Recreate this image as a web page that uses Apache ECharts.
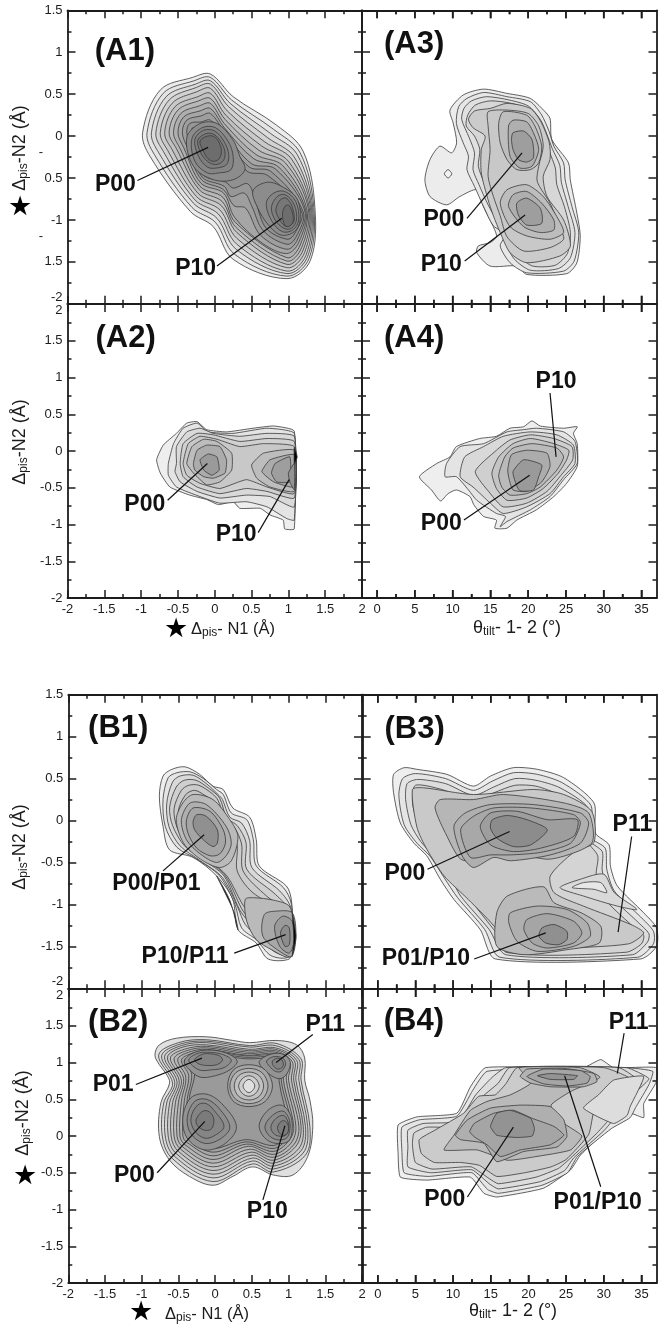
<!DOCTYPE html>
<html>
<head>
<meta charset="utf-8">
<title>Free energy maps</title>
<script src="https://cdn.jsdelivr.net/npm/echarts@6/dist/echarts.min.js"></script>
<style>
  html, body { margin: 0; background: #fff; }
  #main { width: 664px; height: 1335px; }
</style>
</head>
<body>
<div id="main"></div>
<script>
// tick values
const thetaTicks = [0, 5, 10, 15, 20, 25, 30, 35]
const thetaMinorTicks = [2.5, 7.5, 12.5, 17.5, 22.5, 27.5, 32.5]
// A1 lost its minus signs on two labels in the original figure
const a1YLabels = { '1.5': '1.5', '1': '1', '0.5': '0.5', '0': '0', '-0.5': '0.5', '-1': '-1', '-1.5': '1.5', '-2': '-2' }

// contours, outermost first: flat x,y lists
const a1Contours = [
  [-.06,.74,.25,.47,.84,.13,1.2,-.18,1.36,-.85,1.3,-1.48,.98,-1.7,.25,-1.47,-.02,-1.08,-.33,-.9,-.88,-.24,-.98,.04,-.74,.55,-.3,.7],
  [-.06,.7,.23,.43,.8,.08,1.16,-.2,1.345,-.85,1.28,-1.46,.98,-1.67,.27,-1.41,.01,-1.03,-.31,-.85,-.82,-.22,-.92,.04,-.7,.51,-.28,.66],
  [-.06,.66,.21,.39,.76,.03,1.12,-.22,1.33,-.85,1.26,-1.44,.98,-1.64,.29,-1.35,.03,-.98,-.29,-.8,-.76,-.2,-.86,.04,-.66,.47,-.26,.62],
  [-.06,.62,.19,.35,.72,-.02,1.08,-.25,1.315,-.85,1.24,-1.42,.98,-1.61,.3,-1.29,.05,-.93,-.27,-.76,-.7,-.18,-.8,.04,-.62,.43,-.25,.58],
  [-.06,.57,.17,.3,.68,-.07,1.04,-.27,1.3,-.85,1.22,-1.39,.98,-1.57,.3,-1.22,.07,-.88,-.25,-.72,-.64,-.17,-.74,.04,-.58,.39,-.24,.53],
  [-.06,.51,.15,.25,.64,-.12,1,-.3,1.285,-.86,1.2,-1.36,.98,-1.53,.3,-1.15,.09,-.83,-.23,-.68,-.58,-.16,-.68,.04,-.54,.35,-.23,.47],
  [-.06,.45,.14,.2,.6,-.17,.96,-.32,1.27,-.86,1.18,-1.33,.98,-1.49,.29,-1.09,.1,-.78,-.21,-.64,-.52,-.15,-.62,.04,-.5,.31,-.22,.42],
  [-.06,.39,.13,.15,.56,-.22,.92,-.35,1.25,-.87,1.16,-1.3,.98,-1.45,.28,-1.03,.11,-.73,-.2,-.6,-.47,-.15,-.56,.04,-.46,.27,-.21,.36],
  [-.06,.33,.13,.1,.53,-.27,.87,-.37,1.235,-.88,1.14,-1.27,.98,-1.4,.65,-1.28,.27,-.97,.12,-.68,-.19,-.56,-.42,-.14,-.5,.04,-.42,.23,-.2,.3],
  [-.06,.27,.14,.04,.5,-.33,.82,-.39,1.22,-.88,1.12,-1.24,.98,-1.35,.62,-1.18,.42,-.86,.26,-.83,.12,-.64,-.18,-.52,-.37,-.14,-.44,.04,-.38,.19,-.19,.24],
  [-.06,.19,.16,-.03,.47,-.37,.76,-.42,1.2,-.9,1.1,-1.21,.98,-1.29,.66,-1.13,.5,-.83,.4,-.68,.22,-.72,.13,-.6,-.17,-.49,-.32,-.13,-.38,.04,-.34,.15,-.18,.17],
  [-.06,.115,.19,-.12,.44,-.42,.72,-.47,1.18,-.9,1.08,-1.17,.98,-1.23,.7,-1.1,.56,-.8,.45,-.57,.25,-.62,.15,-.55,-.16,-.46,-.27,-.13,-.31,.05,-.3,.1,-.17,.11],
  [-.38,-.02,-.2,.15,.03,.15,.25,-.05,.34,-.24,.41,-.4,.25,-.52,-.02,-.52,-.29,-.36],
  [-.31,-.03,-.17,.1,.01,.1,.18,-.06,.25,-.24,.22,-.4,.05,-.44,-.1,-.44,-.27,-.3],
  [-.27,-.04,-.15,.07,0,.06,.13,-.07,.19,-.22,.16,-.34,.03,-.38,-.1,-.37,-.22,-.24],
  [-.23,-.05,-.12,.03,-.01,.02,.09,-.08,.14,-.2,.11,-.3,.01,-.34,-.1,-.3,-.19,-.2],
  [-.2,-.06,-.1,0,0,-.01,.07,-.1,.09,-.2,.05,-.28,-.02,-.3,-.09,-.27,-.16,-.17],
  [.52,-.65,.72,-.55,.95,-.62,1.12,-.75,1.16,-1,1.08,-1.14,.9,-1.18,.72,-1.05,.58,-.85],
  [.7,-.8,.8,-.68,.95,-.66,1.1,-.78,1.14,-1,1.06,-1.12,.92,-1.14,.78,-1.02],
  [.77,-.85,.85,-.72,.96,-.7,1.08,-.82,1.11,-1,1.04,-1.1,.94,-1.1,.82,-1],
  [.83,-.88,.89,-.76,.97,-.74,1.05,-.84,1.08,-1,1.02,-1.07,.95,-1.07,.87,-.98],
  [.92,-.93,.96,-.83,1.01,-.83,1.06,-.93,1.06,-1.03,1,-1.08,.95,-1.06]
]
const a1Levels = [5,10,15,20,25,30,35,40,45,50,54,58,60,64,68,72,78,60,64,68,72,78]

const a2Contours = [
  [-.79,-.12,-.7,.08,-.52,.24,-.38,.38,-.24,.4,-.11,.29,.16,.26,.52,.31,.8,.34,1.08,.27,1.08,-1.06,.95,-1.06,.93,-.94,.75,-.87,.62,-.78,.34,-.78,.25,-.69,.05,-.73,-.11,-.66,-.34,-.6,-.61,-.49,-.74,-.3],
  [-.63,-.17,-.56,.1,-.43,.31,-.24,.38,-.09,.26,.25,.24,.71,.31,1.08,.24,1.08,-.94,.98,-.92,.71,-.76,.43,-.69,.07,-.71,-.2,-.62,-.52,-.49,-.63,-.33],
  [-.52,-.17,-.52,.06,-.38,.26,-.2,.31,-.02,.24,.34,.2,.71,.24,1.08,.2,1.08,-.76,.75,-.62,.43,-.6,.07,-.64,-.24,-.55,-.47,-.42,-.54,-.28],
  [-.47,-.17,-.43,.1,-.24,.24,-.02,.22,.34,.13,.71,.17,1.08,.13,1.08,-.64,.71,-.55,.43,-.51,.07,-.58,-.24,-.49,-.43,-.35],
  [-.43,-.17,-.36,.1,-.2,.2,.03,.16,.34,.06,.66,.1,1.08,.06,1.08,-.58,.71,-.49,.43,-.39,.07,-.51,-.2,-.44,-.38,-.33],
  [-.38,-.17,-.31,.06,-.15,.16,.03,.13,.23,-.03,.23,-.26,.07,-.42,-.11,-.46,-.29,-.3],
  [-.29,-.17,-.24,.01,-.11,.08,.07,.06,.16,-.12,.14,-.3,-.02,-.37,-.15,-.35,-.27,-.26],
  [-.2,-.12,-.09,-.04,.03,-.08,.06,-.26,-.04,-.33,-.15,-.26],
  [.5,-.19,.66,-.03,1.08,.01,1.08,-.55,.75,-.49,.57,-.37],
  [.64,-.28,.75,-.12,1.08,-.05,1.08,-.49,.8,-.42],
  [.77,-.3,.82,-.17,1.02,-.08,1.02,-.42,.84,-.42],
  [1,-.3,1.08,-.17,1.08,-.53,1.02,-.42],
  [1.08,.05,1.12,-.08,1.08,-.18]
]
const a2Levels = [4,10,16,21,26,32,42,52,32,42,50,56,150]

const a3Contours = [
  [9.65,.31,11.4,.49,14.07,.56,17.17,.51,20.27,.45,22.04,.31,22.9,.21,23.14,-.04,25.35,-.32,25.58,-.52,26.46,-.92,26.9,-1.19,26.46,-1.51,25.13,-1.64,19.82,-1.65,18.5,-1.55,14.96,-1.55,13.19,-1.39,13.4,-1.31,14.96,-1.27,15.84,-1.19,14.07,-.84,13.19,-.64,10.97,-.72,9.2,-.82,7,-.72,6.33,-.52,7,-.28,8.32,-.12,9.87,-.2,10.53,-.08,10.09,.15],
  [9.4,-.4,9.9,-.45,9.4,-.5,8.9,-.45],
  [10.8,.35,11.9,.45,14.1,.52,17.2,.47,20.3,.41,21.8,.25,22.8,.05,23.4,-.12,24.7,-.32,24.9,-.52,25.8,-.84,26.7,-1.15,26.1,-1.49,24.7,-1.61,19.8,-1.63,17.6,-1.51,16.3,-1.31,17,-1.17,15.4,-1.07,14.1,-.84,12.9,-.6,11.9,-.4,12.1,-.24,11.4,-.08,10.5,.15],
  [11.5,.33,12.5,.42,14.5,.47,17.5,.43,20,.36,21.6,.2,22.5,.02,23.2,-.15,24.2,-.35,24.4,-.55,25.3,-.84,26.2,-1.15,25.6,-1.45,24,-1.58,20.3,-1.6,18.2,-1.47,17.1,-1.28,17.5,-1.13,16,-1.02,14.7,-.82,13.5,-.58,12.7,-.4,12.9,-.2,12.2,-.02,11.2,.2],
  [12,.25,13,.37,15,.42,17.8,.39,19.8,.32,21.2,.15,22.2,0,22.8,-.18,23.6,-.38,23.8,-.58,24.8,-.84,25.6,-1.15,25.2,-1.4,23.6,-1.54,20.6,-1.55,18.8,-1.43,17.8,-1.25,18,-1.08,16.5,-.96,15.2,-.78,14.2,-.56,13.4,-.36,13.6,-.16,12.9,0,11.8,.12],
  [12.1,.2,12.9,.3,15,.33,17.2,.39,20.3,.33,21.7,.17,22.8,-.08,22.9,-.28,22,-.48,22.5,-.72,24.7,-1,25.6,-1.31,24.2,-1.43,19.8,-1.51,17.6,-1.39,16.3,-1.15,15.4,-.95,14.7,-.76,13.8,-.44,13.8,-.16,14.3,0,12.7,.1],
  [14.7,.29,17.2,.31,20,.27,21.4,.12,22,-.12,21.4,-.36,21.2,-.54,22.9,-.8,24.2,-1.08,24.7,-1.23,22.9,-1.33,19.4,-1.37,17.2,-1.2,16.3,-.95,15.4,-.72,14.7,-.48,14.96,-.16,14.7,.12],
  [16.1,.15,16.7,.29,19.8,.25,20.9,.12,21.8,-.12,21.4,-.32,20.3,-.4,18.5,-.4,17.2,-.28,16.3,-.08],
  [17.4,.12,18,.19,19.8,.17,20.7,.04,21.4,-.16,20.5,-.36,18.9,-.38,17.6,-.24],
  [17.8,-.04,18,.04,19.4,.06,20.5,-.04,20.7,-.26,19.8,-.31,18.7,-.28,18,-.16],
  [16.3,-.8,17.2,-.64,19.8,-.58,22,-.72,23.8,-.96,24.7,-1.15,22.9,-1.23,19.8,-1.19,17.6,-1.08],
  [17.4,-.84,18,-.7,19.8,-.66,21.8,-.8,23.4,-1,23.4,-1.12,21.6,-1.15,19.4,-1.08],
  [18.5,-.8,19.8,-.74,21.6,-.86,21.8,-1.04,19.8,-1.06,18.7,-.94]
]
const a3Levels = [5,2,8,12,17,24,26,32,40,50,32,40,50]

const a4Contours = [
  [5.6,-.35,7.9,-.17,9.65,-.08,10.5,.06,13.6,.17,15.8,.2,17.6,.31,19.4,.33,20.5,.41,21.6,.34,24.7,.31,26.5,.33,26,.24,26.5,.1,26.5,-.21,25.1,-.44,23.4,-.62,21.1,-.8,18.5,-.94,17.2,-1.05,15.6,-1.05,15.8,-.94,14.1,-.89,12.8,-.73,12.3,-.62,10.5,-.53,9.4,-.58,8.4,-.68,7.2,-.53],
  [9,-.35,9.2,-.17,11,.06,14.1,.1,17.2,.26,19.4,.29,21.1,.31,24.7,.26,26.2,.13,26.5,-.17,24.7,-.39,22.9,-.62,20.3,-.8,17.2,-.96,16.3,-1.03,17,-.89,15.8,-.85,13.2,-.67,12.1,-.53,10.5,-.35],
  [11,-.35,11.6,-.08,14.1,.06,16.7,.2,20.3,.26,23.8,.22,26,.08,26.2,-.17,24.7,-.35,22.9,-.58,19.8,-.76,16.7,-.85,15,-.71,12.7,-.49],
  [13,-.28,15.8,.01,17.6,.15,20.3,.22,23.4,.17,25.8,.06,25.9,-.12,24.2,-.35,22.5,-.55,19.8,-.71,16.7,-.76,15,-.58],
  [15.2,-.3,16.1,-.08,18,.1,20.3,.17,23.4,.1,25.4,.01,25.1,-.12,24,-.3,22,-.51,19.8,-.64,17.2,-.67,15.8,-.51],
  [16.1,-.33,16.9,-.08,18,.04,20.5,.1,23.8,.04,24.7,-.08,23.8,-.26,21.6,-.49,19.8,-.58,17.6,-.6,16.5,-.49],
  [17.3,-.26,17.8,-.05,19.8,.01,22.5,-.03,22.9,-.21,21.8,-.42,19.8,-.55,18,-.53,17.5,-.39],
  [18,-.28,19.4,-.12,21.8,-.19,21.4,-.35,20.7,-.53,18.9,-.54,18.3,-.42]
]
const a4Levels = [4,10,16,22,28,34,42,52]

const b1Contours = [
  [-.76,.29,-.71,.53,-.59,.61,-.41,.64,-.21,.55,-.03,.41,.11,.37,.24,.15,.47,.04,.56,-.23,.6,-.54,.97,-.78,1.04,-.96,1.06,-1.5,1.01,-1.65,.72,-1.65,.56,-1.46,.31,-1.3,.24,-.94,.02,-.66,-.3,-.44,-.62,-.35,-.71,-.07],
  [-.71,.25,-.64,.51,-.52,.57,-.34,.58,-.16,.5,.02,.37,.11,.31,.22,.09,.43,.01,.52,-.23,.56,-.54,.93,-.8,1.04,-1,1.05,-1.46,.99,-1.63,.76,-1.61,.56,-1.42,.36,-1.28,.27,-1,.06,-.66,-.25,-.46,-.52,-.32,-.68,-.07],
  [-.66,.2,-.58,.46,-.48,.53,-.3,.54,-.12,.44,.04,.31,.1,.25,.2,.04,.36,-.03,.47,-.24,.5,-.56,.88,-.84,1.03,-1.04,1.04,-1.42,.97,-1.6,.8,-1.56,.58,-1.38,.41,-1.24,.31,-1.04,.1,-.68,-.2,-.48,-.48,-.3,-.63,-.07],
  [-.62,.16,-.53,.4,-.42,.48,-.26,.48,-.08,.38,.06,.27,.16,.03,.3,-.06,.42,-.26,.43,-.58,.82,-.88,1.02,-1.08,1.03,-1.38,.95,-1.56,.82,-1.52,.6,-1.35,.45,-1.2,.33,-1.06,.12,-.66,-.16,-.47,-.42,-.3,-.58,-.06],
  [-.56,.14,-.46,.36,-.36,.42,-.22,.42,-.04,.32,.04,.24,.14,.01,.26,-.08,.36,-.28,.38,-.6,.7,-.9,1,-1.1,1.02,-1.34,.94,-1.52,.84,-1.48,.62,-1.32,.47,-1.18,.36,-1.05,.14,-.66,-.13,-.46,-.38,-.28,-.52,-.08],
  [-.5,.12,-.4,.31,-.28,.36,-.14,.3,0,.21,.1,0,.22,-.1,.3,-.3,.3,-.6,.5,-.85,.96,-1.12,1.01,-1.3,.92,-1.47,.8,-1.42,.6,-1.25,.46,-1.1,.36,-.98,.16,-.66,-.1,-.46,-.34,-.28,-.46,-.08],
  [-.53,.01,-.44,.21,-.3,.31,-.03,.25,.2,.01,.31,-.19,.22,-.48,.06,-.56,-.2,-.46,-.43,-.27],
  [-.46,.01,-.34,.21,-.12,.19,.15,-.07,.22,-.27,.15,-.42,.02,-.5,-.2,-.4,-.39,-.23],
  [-.39,.01,-.3,.15,-.07,.11,.11,-.11,.14,-.27,.06,-.4,-.07,-.42,-.25,-.33,-.37,-.15],
  [-.3,-.01,-.25,.07,-.12,.05,.03,-.11,.03,-.27,-.03,-.31,-.16,-.23,-.28,-.11],
  [.41,-.94,.52,-.92,.8,-.95,1.01,-1.02,1.06,-1.2,1.08,-1.46,1.01,-1.63,.77,-1.54,.56,-1.42,.43,-1.2],
  [.67,-1.12,.83,-1.08,1.05,-1.1,1.1,-1.38,1.04,-1.62,.88,-1.56,.65,-1.38],
  [.81,-1.26,.92,-1.14,1.05,-1.2,1.08,-1.42,1.01,-1.58,.88,-1.5],
  [.89,-1.34,.95,-1.25,1.01,-1.28,1.01,-1.48,.95,-1.5],
  [1.05,-1.1,1.09,-1.3,1.1,-1.4,1.05,-1.62,1.07,-1.4],
  [.02,-.66,.2,-.95,.31,-1.3,.26,-1.1,.1,-.8]
]
const b1Levels = [4,10,16,22,24,28,34,40,46,58,34,44,52,60,150,150]

const b2Contours = [
  [-.82,1.1,-.76,1.24,-.53,1.33,-.12,1.35,.24,1.3,.47,1.27,.83,1.3,1.11,1.24,1.22,1.06,1.22,.76,1.29,.49,1.33,.13,1.26,-.28,1.06,-.53,.79,-.53,.51,-.42,.24,-.55,-.03,-.67,-.35,-.55,-.62,-.33,-.76,-.01,-.74,.45,-.62,.72,-.67,.85,-.76,.97],
  [-.77,1.1,-.5,1.27,-.12,1.31,.47,1.23,.83,1.26,1.17,1.05,1.17,.76,1.29,.13,1.23,-.26,.79,-.49,.51,-.38,-.03,-.62,-.59,-.3,-.72,0,-.7,.45,-.58,.72],
  [-.73,1.09,-.48,1.25,-.12,1.29,.47,1.21,.82,1.23,1.14,1.04,1.14,.76,1.26,.13,1.2,-.23,.79,-.45,.51,-.34,-.03,-.57,-.56,-.27,-.68,0,-.66,.45,-.55,.73],
  [-.69,1.08,-.46,1.23,-.12,1.27,.46,1.18,.82,1.2,1.11,1.03,1.1,.76,1.23,.13,1.17,-.2,.79,-.41,.51,-.3,-.03,-.52,-.53,-.24,-.64,0,-.62,.45,-.52,.74],
  [-.65,1.07,-.44,1.21,-.12,1.24,.46,1.16,.82,1.18,1.08,1.02,1.07,.76,1.2,.13,1.14,-.17,.79,-.37,.5,-.26,-.03,-.47,-.5,-.21,-.6,0,-.58,.45,-.49,.75],
  [-.61,1.06,-.42,1.18,-.12,1.22,.45,1.14,.82,1.16,1.05,1.01,1.04,.76,1.17,.13,1.1,-.14,.79,-.33,.49,-.22,-.03,-.42,-.47,-.18,-.56,0,-.54,.46,-.46,.76],
  [-.56,1.05,-.39,1.16,-.12,1.2,.44,1.12,.82,1.14,1.02,1,1,.76,1.14,.13,1.07,-.12,.79,-.29,.47,-.18,-.03,-.37,-.44,-.15,-.52,0,-.5,.46,-.43,.78],
  [-.51,1.04,-.36,1.14,-.12,1.18,.43,1.1,.82,1.12,.99,1,.97,.76,1.1,.13,1.03,-.1,.79,-.25,.45,-.14,-.03,-.32,-.41,-.12,-.48,0,-.46,.47,-.4,.8],
  [-.46,1.03,-.33,1.12,-.12,1.16,.42,1.09,.82,1.1,.96,1,.93,.76,1.07,.13,1,-.07,.79,-.21,.43,-.11,-.03,-.27,-.38,-.09,-.44,0,-.42,.48,-.36,.82],
  [-.42,1.02,-.3,1.1,-.12,1.14,.42,1.07,.81,1.08,.94,1,.9,.76,1.04,.13,.97,-.05,.79,-.17,.42,-.08,-.03,-.22,-.35,-.06,-.4,.05,-.38,.5,-.32,.84],
  [-.37,1.01,-.26,1.08,-.12,1.12,.42,1.05,.8,1.06,.92,1,.87,.76,1,.13,.94,-.03,.79,-.13,.42,-.05,-.03,-.17,-.32,-.03,-.36,.1,-.35,.52,-.28,.86],
  [-.44,.25,-.33,.52,-.12,.57,.09,.44,.29,.13,.14,-.1,-.14,-.19,-.38,-.03],
  [-.38,.25,-.28,.47,-.12,.5,.05,.38,.2,.12,.07,-.04,-.14,-.1,-.33,.03],
  [-.33,.24,-.24,.42,-.12,.44,0,.33,.12,.13,0,.01,-.14,-.03,-.28,.07],
  [-.26,.22,-.18,.33,-.1,.34,-.03,.27,-.02,.17,-.06,.09,-.15,.08,-.24,.14],
  [.6,.15,.72,.35,.9,.42,1.02,.3,1.05,.1,1,-.07,.82,-.1,.67,-.02],
  [.68,.14,.78,.28,.92,.34,1,.25,1.02,.1,.97,-.03,.84,-.05,.72,.02],
  [.76,.13,.83,.24,.93,.28,.99,.2,1,.1,.96,.01,.86,0,.79,.04],
  [.85,.12,.9,.2,.96,.2,1,.12,.98,.03,.92,.01,.87,.05],
  [-.42,1.02,-.3,1.13,-.1,1.17,.15,1.13,.3,1.02,.2,.9,0,.82,-.2,.8,-.35,.9],
  [-.36,1.03,-.25,1.12,-.1,1.14,.1,1.11,.22,1.03,.12,.93,-.05,.9,-.22,.9],
  [-.28,1.04,-.18,1.11,-.08,1.12,.06,1.09,.1,1.03,.02,.97,-.12,.96,-.22,.98],
  [.6,1,.72,1.1,.9,1.12,1.02,1.02,.98,.85,.88,.78,.74,.84],
  [.7,1.02,.8,1.08,.92,1.06,.96,.98,.9,.88,.82,.88,.74,.95],
  [.78,1.02,.85,1.06,.92,1.02,.92,.94,.85,.91,.79,.96],
  [.17,.68,.25,.9,.46,.97,.68,.9,.78,.68,.68,.47,.46,.4,.25,.47],
  [.2,.68,.28,.86,.46,.92,.64,.86,.72,.68,.64,.5,.46,.44,.28,.5],
  [.26,.68,.32,.82,.46,.87,.6,.82,.66,.68,.6,.54,.46,.49,.32,.54],
  [.32,.68,.37,.78,.46,.82,.55,.78,.6,.68,.55,.58,.46,.54,.37,.58],
  [.38,.68,.41,.74,.46,.77,.51,.74,.54,.68,.51,.62,.46,.59,.41,.62]
]
const b2Levels = [12,16,20,24,28,32,36,40,44,48,52,56,60,64,70,56,60,64,70,56,60,66,56,60,66,46,38,30,22,12]

const b3Contours = [
  [2.1,.55,3.5,.63,5.2,.61,9.2,.55,12.7,.41,14.96,.53,18,.63,21.2,.61,24.7,.51,28.7,.21,28.9,-.15,30.7,-.29,30.9,-.55,31.8,-.78,35.3,-1.1,37,-1.28,37,-1.5,34.9,-1.65,15.6,-1.65,13.6,-1.3,10.1,-.94,8.3,-.7,6.5,-.42,4.8,-.27,3,-.03,2.1,.33],
  [3.3,.5,5,.56,9,.5,12.7,.36,15.2,.47,18,.57,21.2,.55,24.5,.45,28.3,.18,28.3,-.2,30.2,-.33,30.4,-.58,31.4,-.84,34.9,-1.15,36.6,-1.32,36.6,-1.47,34.5,-1.63,16.2,-1.63,14.2,-1.3,10.6,-.92,8.8,-.68,6.9,-.42,5.2,-.27,3.5,-.05,2.8,.3],
  [3.9,.44,5.3,.49,9,.44,12.7,.3,15.4,.4,18.2,.5,21,.48,24.2,.39,27.9,.15,27.9,-.22,29.8,-.37,29.8,-.6,30.8,-.88,34.4,-1.2,36,-1.35,35.8,-1.45,33.8,-1.6,17,-1.6,14.8,-1.3,11,-.9,9.4,-.64,7.4,-.42,5.7,-.25,4.4,-.05,3.7,.25],
  [5,.42,8.5,.37,12.7,.24,15.4,.33,18.2,.42,21,.41,24,.31,27.6,.1,27.6,-.22,29.2,-.42,29,-.65,30,-.92,33.6,-1.24,35.3,-1.37,35,-1.47,33,-1.57,18,-1.58,15.4,-1.3,11.8,-.88,10.2,-.62,8,-.38,6.4,-.2,5.2,0,4.6,.22],
  [4.6,.37,6.1,.39,12.7,.31,20.7,.37,24.7,.31,28.4,.11,28.7,-.26,26,-.38,22.9,-.66,23.4,-.86,27.3,-1.02,33.6,-1.24,35.3,-1.34,33.3,-1.47,23,-1.53,17,-1.57,15.8,-1.3,12,-.94,8.8,-.66,6.5,-.34,5.2,-.08],
  [24.2,-.8,26.9,-.7,30,-.64,31.4,-.86,34.4,-1.06,31.8,-1.02,27.3,-.9],
  [25.8,-.8,27.3,-.74,29.6,-.74,30.4,-.86,28.7,-.82],
  [7.6,.15,8.3,.25,12.7,.25,16.7,.31,24.7,.21,28,.09,28.4,-.27,22.9,-.46,17.2,-.38,13.2,-.48,11,-.46,9.2,-.19],
  [10.1,-.07,11.6,.09,14.96,.19,20.7,.19,26.9,.09,28,-.03,26.9,-.27,22.9,-.41,17.6,-.48,15.4,-.44,12.7,-.56,11.2,-.42],
  [11,-.11,12.7,.05,15.4,.15,20.3,.15,26,.07,26.9,-.03,25.6,-.27,21.6,-.38,17.6,-.41,14.96,-.41,12.3,-.44],
  [13.6,-.07,14.96,.09,18.5,.11,22.5,.01,26.5,.01,26,-.19,21.6,-.33,18,-.37,14.96,-.29],
  [14.96,-.09,15.2,.01,17.2,.06,19.8,.01,22.5,-.11,20.3,-.29,18,-.31,15.8,-.21],
  [15.8,-1.1,17.2,-.9,22,-.79,23.4,-.98,27,-1.1,29.6,-1.26,29.4,-1.46,25.1,-1.54,19.4,-1.6,15.8,-1.5],
  [17.4,-1.22,17.6,-1.1,21.2,-1.02,25.1,-1.06,27.8,-1.22,28.2,-1.38,26,-1.5,21.2,-1.56,18.5,-1.44],
  [19.4,-1.3,19.8,-1.18,22.5,-1.11,26,-1.2,27.1,-1.34,26,-1.46,22.5,-1.52,20.5,-1.46],
  [21.4,-1.38,21.8,-1.28,23.4,-1.24,25.1,-1.32,25.1,-1.42,24,-1.48,22.3,-1.46]
]
const b3Levels = [4,9,14,19,25,16,8,36,40,44,50,60,34,40,46,58]

const b4Contours = [
  [2.7,.15,5.2,.26,10.5,.31,12.3,.67,14.3,.93,27.3,.93,29.6,1.04,31.3,.93,37,.93,37,.74,35.3,.44,35.3,.25,33.5,.31,31.3,.17,26.9,-.26,25.6,-.46,22,-.71,15.8,-.83,14.1,-.78,12.3,-.56,6.5,-.6,3,-.56,2.7,-.24],
  [3.2,.12,5.5,.22,10.5,.27,12.6,.62,14.5,.88,27,.93,33,.93,36.5,.88,36,.7,34.3,.4,33.5,.25,31,.1,26.5,-.28,25.2,-.5,21.8,-.67,16,-.78,14.6,-.73,12.5,-.5,6.7,-.55,3.5,-.5,3.2,-.2],
  [4,.08,6,.17,10.7,.2,13,.56,15.2,.8,17,.93,33,.93,36,.78,34.5,.62,33,.4,31.5,.25,30,.07,26,-.3,24.8,-.47,21.6,-.62,16,-.72,14.8,-.65,12.5,-.46,7,-.5,4,-.42,4,-.15],
  [4.8,.04,6.5,.12,10.8,.13,13.5,.5,16,.72,17.5,.93,32,.93,35,.72,33.5,.55,31.8,.42,30.5,.2,29,.03,25.6,-.3,24,-.44,21,-.56,16,-.65,14.8,-.58,12.4,-.42,7.2,-.45,5,-.36,4.6,-.12],
  [5.5,-.05,7.6,.08,11.4,.31,13.4,.54,15.6,.56,17,.71,18.5,.93,30,.93,33.5,.78,31,.6,28.8,.38,28,.02,25,-.32,23,-.42,19.5,-.5,15.8,-.55,13.5,-.4,11,-.36,7.5,-.36,5.8,-.24],
  [29.3,.56,31.3,.76,35.3,.81,33.5,.4,33.1,.28,31.3,.17,27.3,.38],
  [8.8,-.19,10.1,.01,12.3,.35,14.5,.47,17.6,.56,20.3,.72,18.8,.93,26.8,.93,29.5,.8,25.5,.6,23,.42,24,.22,27.1,0,25.6,-.19,21,-.28,17.2,-.33,13.2,-.19],
  [10.3,.01,11.9,.22,14.96,.38,18.9,.42,22.9,.4,24.7,.22,25.1,-.01,23.8,-.15,19.4,-.21,15.8,-.35,14.1,-.1,11,-.05],
  [12.2,.06,12.8,.17,15.4,.31,18,.35,20.5,.24,23.4,.13,24.7,.01,22.9,-.12,18.9,-.19,16.3,-.28,14.5,-.12,12.8,-.01],
  [14.96,.13,15.8,.31,17.6,.35,20.3,.24,20.8,.1,20.5,0,18.5,-.02,15.8,.01],
  [18.9,.81,19.8,.91,24.7,.92,28.7,.85,29.1,.74,27.3,.67,22.9,.67,20.3,.72],
  [19.8,.81,22,.91,26.9,.89,28.2,.81,27.8,.72,25.1,.68,22,.71],
  [21.2,.82,22.9,.85,26.5,.82,26,.77,22.9,.77]
]
const b4Levels = [4,9,14,18,24,14,34,40,46,56,38,46,56]

// annotations: text,x,y and leader lines x1,y1,x2,y2
const a1Notes = [['(A1)',-1.22,1.01],['P00',-1.35,-.58],['P10',-.26,-1.58]]
const a1Leaders = [[-1.05,-.53,-.09,-.135],[.03,-1.55,.91,-.98]]
const a2Notes = [['(A2)',-1.21,1.53],['P00',-.95,-.73],['P10',.29,-1.14]]
const a2Leaders = [[-.64,-.67,-.1,-.17],[.59,-1.11,1.01,-.39]]
const a3Notes = [['(A3)',4.9,1.09],['P00',8.85,-1],['P10',8.5,-1.53]]
const a3Leaders = [[11.9,-.98,19.2,-.2],[11.6,-1.49,19.6,-.94]]
const a4Notes = [['(A4)',4.9,1.53],['P10',23.7,.94],['P00',8.5,-.99]]
const a4Leaders = [[22.9,.79,23.7,-.08],[11.5,-.94,20.2,-.33]]
const b1Notes = [['(B1)',-1.32,1.1],['P00/P01',-.8,-.75],['P10/P11',-.41,-1.62]]
const b1Leaders = [[-.71,-.6,-.15,-.17],[.26,-1.58,.96,-1.36]]
const b2Notes = [['(B2)',-1.32,1.55],['P01',-1.39,.7],['P00',-1.1,-.54],['P10',.71,-1.03],['P11',1.5,1.51]]
const b2Leaders = [[-1.08,.7,-.18,1.06],[-.79,-.5,-.14,.2],[.65,-.87,.95,.14],[1.33,1.38,.83,1]]
const b3Notes = [['(B3)',4.9,1.08],['P00',3.6,-.63],['P01/P10',6.4,-1.65],['P11',33.8,-.05]]
const b3Leaders = [[6.6,-.58,17.5,-.13],[12.8,-1.65,22.3,-1.34],[33.7,-.19,31.9,-1.33]]
const b4Notes = [['(B4)',4.8,1.56],['P00',8.9,-.86],['P01/P10',29.2,-.91],['P11',33.3,1.54]]
const b4Leaders = [[11.9,-.83,18,.12],[29.6,-.69,24.8,.82],[32.7,1.4,31.8,.85]]

const FONT = '"Liberation Sans", Arial, sans-serif'
const INK = '#1c1c1c'

function levelColor(level) {
  const g = Math.max(0, Math.round(245 - 1.75 * level))
  return `rgb(${g},${g},${g})`
}

function flatToPoints(flat) {
  const pts = []
  for (let i = 0; i < flat.length; i += 2) pts.push([flat[i], flat[i + 1]])
  return pts
}

const grids = []
const xAxes = []
const yAxes = []
const series = []

function tickStyle() {
  return { color: INK, width: 1.5 }
}

function baseAxis(gridIndex, min, max) {
  return {
    gridIndex,
    type: 'value',
    min,
    max,
    z: 10,
    splitLine: { show: false },
    axisLine: { show: true, onZero: false, lineStyle: { color: INK, width: 1.8 } },
    axisTick: { show: true, inside: true, length: 8, lineStyle: tickStyle() },
    minorTick: { show: false },
    axisLabel: { show: false }
  }
}

function deltaAxis(gridIndex, min, max, position, labels) {
  const axis = baseAxis(gridIndex, min, max)
  axis.position = position
  axis.interval = 0.5
  axis.minorTick = { show: true, splitNumber: 2, length: 4, lineStyle: tickStyle() }
  if (labels) axis.axisLabel = Object.assign({ show: true, color: INK, fontSize: 13, fontFamily: FONT, margin: 5 }, labels)
  return axis
}

function thetaAxes(gridIndex, position, labels) {
  // min is -2 so the 5 degree ticks have to be listed
  const major = baseAxis(gridIndex, -2, 37)
  major.position = position
  major.axisTick.customValues = thetaTicks
  if (labels) {
    major.axisLabel = { show: true, customValues: thetaTicks, color: INK, fontSize: 13, fontFamily: FONT, margin: 5 }
  }
  const minor = baseAxis(gridIndex, -2, 37)
  minor.position = position
  minor.axisLine = { show: false, onZero: false }
  minor.axisTick.customValues = thetaMinorTicks
  minor.axisTick.length = 4
  return [major, minor]
}

function addPanel(p) {
  const gridIndex = grids.length
  grids.push({ left: p.left, top: p.top, width: p.width, height: p.height })

  const xIndex = xAxes.length
  if (p.theta) {
    xAxes.push(...thetaAxes(gridIndex, 'bottom', p.xLabels))
    xAxes.push(...thetaAxes(gridIndex, 'top', false))
  } else {
    xAxes.push(deltaAxis(gridIndex, -2, 2, 'bottom', p.xLabels ? {} : null))
    xAxes.push(deltaAxis(gridIndex, -2, 2, 'top', null))
  }

  const yIndex = yAxes.length
  yAxes.push(deltaAxis(gridIndex, p.yMin, 1.5 + p.yTop, 'left', p.theta ? null : (p.yLabels || {})))
  yAxes.push(deltaAxis(gridIndex, p.yMin, 1.5 + p.yTop, 'right', null))

  series.push({
    type: 'custom',
    xAxisIndex: xIndex,
    yAxisIndex: yIndex,
    silent: true,
    animation: false,
    clip: false,
    data: p.contours.map((c, i) => [i, p.levels[i]]),
    renderItem: (params, api) => {
      const ring = flatToPoints(p.contours[params.dataIndex])
      return {
        type: 'polygon',
        shape: { points: ring.map(pt => api.coord(pt)), smooth: p.smooth },
        style: { fill: levelColor(p.levels[params.dataIndex]), stroke: '#3a3a3a', lineWidth: 0.8 }
      }
    }
  })

  // theta ticks on both edges, so they show whatever the helper axes do
  if (p.theta) {
    series.push({
      type: 'custom',
      xAxisIndex: xIndex,
      yAxisIndex: yIndex,
      silent: true,
      animation: false,
      clip: false,
      z: 4,
      data: thetaTicks.map(v => [v, 8]).concat(thetaMinorTicks.map(v => [v, 4])),
      renderItem: (params, api) => {
        const len = api.value(1)
        const bottom = api.coord([api.value(0), p.yMin])
        const top = api.coord([api.value(0), 1.5 + p.yTop])
        const style = { stroke: INK, lineWidth: 1.5 }
        return {
          type: 'group',
          children: [
            { type: 'line', shape: { x1: bottom[0], y1: bottom[1], x2: bottom[0], y2: bottom[1] - len }, style },
            { type: 'line', shape: { x1: top[0], y1: top[1], x2: top[0], y2: top[1] + len }, style }
          ]
        }
      }
    })
  }

  series.push({
    type: 'custom',
    xAxisIndex: xIndex,
    yAxisIndex: yIndex,
    silent: true,
    animation: false,
    clip: false,
    z: 5,
    data: p.leaders,
    encode: { x: [0, 2], y: [1, 3] },
    renderItem: (params, api) => {
      const a = api.coord([api.value(0), api.value(1)])
      const b = api.coord([api.value(2), api.value(3)])
      return {
        type: 'line',
        shape: { x1: a[0], y1: a[1], x2: b[0], y2: b[1] },
        style: { stroke: '#111', lineWidth: 1.2 }
      }
    }
  })

  series.push({
    type: 'custom',
    xAxisIndex: xIndex,
    yAxisIndex: yIndex,
    silent: true,
    animation: false,
    clip: false,
    z: 6,
    data: p.notes.map(n => [n[1], n[2]]),
    renderItem: (params, api) => {
      const note = p.notes[params.dataIndex]
      const at = api.coord([note[1], note[2]])
      return {
        type: 'text',
        x: at[0],
        y: at[1],
        style: {
          text: note[0],
          fill: '#111',
          fontFamily: FONT,
          fontWeight: 'bold',
          fontSize: note[0].charAt(0) === '(' ? 31 : 23,
          align: 'center',
          verticalAlign: 'middle'
        }
      }
    }
  })
}

const LEFT_X = 67.5
const RIGHT_X = 362
const COL_W = 294.5
addPanel({ left: LEFT_X, top: 10.3, width: COL_W, height: 293.5, yMin: -2, yTop: 0, contours: a1Contours, levels: a1Levels, notes: a1Notes, leaders: a1Leaders, smooth: 0.35,
  yLabels: { verticalAlignMinLabel: 'bottom', formatter: v => a1YLabels[String(v)] } })
addPanel({ left: LEFT_X, top: 304, width: COL_W, height: 294, yMin: -2, yTop: 0.5, contours: a2Contours, levels: a2Levels, notes: a2Notes, leaders: a2Leaders, smooth: 0.15, xLabels: true,
  yLabels: { verticalAlignMaxLabel: 'top' } })
addPanel({ left: RIGHT_X, top: 10.3, width: COL_W, height: 293.5, yMin: -2, yTop: 0, contours: a3Contours, levels: a3Levels, notes: a3Notes, leaders: a3Leaders, smooth: 0.25, theta: true })
addPanel({ left: RIGHT_X, top: 304, width: COL_W, height: 294, yMin: -2, yTop: 0.5, contours: a4Contours, levels: a4Levels, notes: a4Notes, leaders: a4Leaders, smooth: 0.2, theta: true, xLabels: true })
addPanel({ left: LEFT_X + 0.8, top: 694.7, width: COL_W - 0.8, height: 293.6, yMin: -2, yTop: 0, contours: b1Contours, levels: b1Levels, notes: b1Notes, leaders: b1Leaders, smooth: 0.3,
  yLabels: { verticalAlignMinLabel: 'bottom' } })
addPanel({ left: LEFT_X + 0.8, top: 989, width: COL_W - 0.8, height: 294, yMin: -2, yTop: 0.5, contours: b2Contours, levels: b2Levels, notes: b2Notes, leaders: b2Leaders, smooth: 0.35, xLabels: true,
  yLabels: { verticalAlignMaxLabel: 'top' } })
addPanel({ left: RIGHT_X + 0.7, top: 694.7, width: COL_W - 0.7, height: 293.6, yMin: -2, yTop: 0, contours: b3Contours, levels: b3Levels, notes: b3Notes, leaders: b3Leaders, smooth: 0.25, theta: true })
addPanel({ left: RIGHT_X + 0.7, top: 989, width: COL_W - 0.7, height: 294, yMin: -2, yTop: 0.5, contours: b4Contours, levels: b4Levels, notes: b4Notes, leaders: b4Leaders, smooth: 0.15, theta: true, xLabels: true })

// axis titles and stars
const titleRich = {
  a: { fontFamily: FONT, fontSize: 18, fill: INK, color: INK },
  b: { fontFamily: FONT, fontSize: 16.5, fill: INK, color: INK },
  s: { fontFamily: FONT, fontSize: 12, fill: INK, color: INK, verticalAlign: 'bottom', padding: [7, 0, 0, 0] }
}
function axisTitle(text, x, y, rotated) {
  return {
    type: 'text',
    x,
    y,
    rotation: rotated ? Math.PI / 2 : 0,
    style: { text, rich: titleRich, align: 'center', verticalAlign: 'middle', fill: INK }
  }
}
function star(x, y) {
  return {
    type: 'text',
    x,
    y,
    style: { text: '★', fontFamily: '"DejaVu Sans"', fontSize: 27, fill: '#000', align: 'center', verticalAlign: 'middle' }
  }
}
function strayDash(x, y) {
  return {
    type: 'text',
    x,
    y,
    style: { text: '-', fontFamily: FONT, fontSize: 13, fill: INK, align: 'center', verticalAlign: 'middle' }
  }
}
const yTitle = '{a|Δ}{s|pis}{a|-N2 (Å)}'
const xTitle = '{b|Δ}{s|pis}{b|- N1 (Å)}'
const thetaTitle = '{a|θ}{s|tilt}{a|- 1- 2 (°)}'
const graphics = [
  axisTitle(yTitle, 20, 148, true),
  axisTitle(yTitle, 20, 442, true),
  axisTitle(yTitle, 20, 847, true),
  axisTitle(yTitle, 23, 1113, true),
  axisTitle(xTitle, 233, 629, false),
  axisTitle(xTitle, 207, 1314, false),
  axisTitle(thetaTitle, 517, 628, false),
  axisTitle(thetaTitle, 513, 1311, false),
  star(20, 208),
  star(176, 630),
  star(25, 1177),
  star(141, 1313),
  strayDash(41, 152),
  strayDash(41, 236)
]

const chart = echarts.init(document.getElementById('main'))
chart.setOption({
  backgroundColor: '#fff',
  animation: false,
  grid: grids,
  xAxis: xAxes,
  yAxis: yAxes,
  series,
  graphic: graphics
})
</script>
</body>
</html>
